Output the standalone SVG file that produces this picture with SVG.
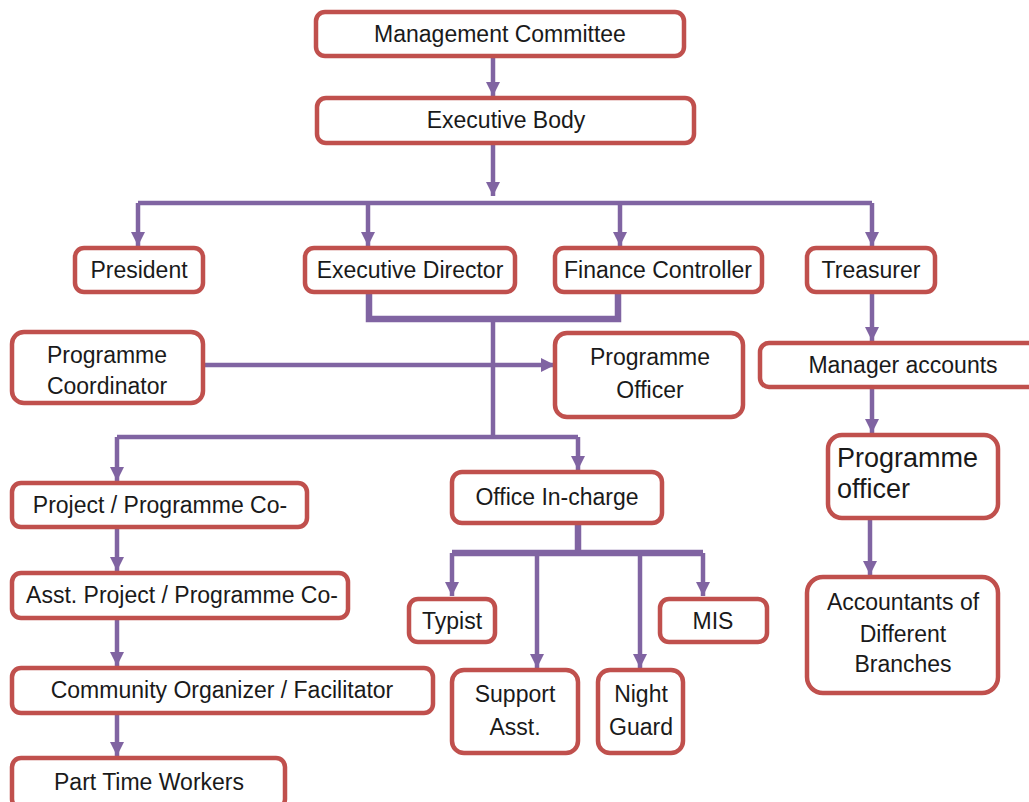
<svg xmlns="http://www.w3.org/2000/svg" width="1029" height="802" viewBox="0 0 1029 802">
<style>
.box{fill:#fff;stroke:#c0504d;stroke-width:4.5}
.t{font-family:"Liberation Sans",Arial,sans-serif;font-size:23px;fill:#1a1a1a;text-anchor:middle}
.big{font-size:27px;text-anchor:start}
.c{fill:none;stroke:#8064a2;stroke-width:4.5}
.thick{stroke-width:6.5}
</style>
<defs>
<marker id="ah" markerUnits="userSpaceOnUse" markerWidth="16" markerHeight="14" refX="14" refY="7" orient="auto">
<path d="M0,0 L14,7 L0,14 Z" fill="#8064a2"/>
</marker>
</defs>
<g id="connectors">
<path class="c" d="M493,56 V96" marker-end="url(#ah)"/>
<path class="c" d="M493,143 V196" marker-end="url(#ah)"/>
<path class="c" d="M138,203 H872"/>
<path class="c" d="M138,203 V246" marker-end="url(#ah)"/>
<path class="c" d="M368,203 V246" marker-end="url(#ah)"/>
<path class="c" d="M620,203 V246" marker-end="url(#ah)"/>
<path class="c" d="M872,203 V246" marker-end="url(#ah)"/>
<path class="c thick" d="M369,292 V319 H618 V292"/>
<path class="c" d="M493,319 V437"/>
<path class="c" d="M203,365 H555" marker-end="url(#ah)"/>
<path class="c" d="M872,292 V341" marker-end="url(#ah)"/>
<path class="c" d="M872,387 V433" marker-end="url(#ah)"/>
<path class="c" d="M870,518 V575" marker-end="url(#ah)"/>
<path class="c" d="M117,437 H578"/>
<path class="c" d="M117,437 V481" marker-end="url(#ah)"/>
<path class="c" d="M578,437 V470" marker-end="url(#ah)"/>
<path class="c" d="M117,527 V571" marker-end="url(#ah)"/>
<path class="c" d="M117,618 V666" marker-end="url(#ah)"/>
<path class="c" d="M117,713 V756" marker-end="url(#ah)"/>
<path class="c thick" d="M578,523 V553"/>
<path class="c thick" d="M452,553 H703"/>
<path class="c" d="M452,553 V596" marker-end="url(#ah)"/>
<path class="c" d="M537,553 V668" marker-end="url(#ah)"/>
<path class="c" d="M640,553 V668" marker-end="url(#ah)"/>
<path class="c" d="M703,553 V596" marker-end="url(#ah)"/>
</g>
<g id="management-committee"><rect class="box" x="316" y="12" width="368" height="44" rx="9"/><text class="t" x="500" y="42">Management Committee</text></g>
<g id="executive-body"><rect class="box" x="317" y="98" width="377" height="45" rx="9"/><text class="t" x="506" y="128">Executive Body</text></g>
<g id="president"><rect class="box" x="75" y="248" width="128" height="44" rx="9"/><text class="t" x="139" y="278">President</text></g>
<g id="executive-director"><rect class="box" x="305" y="248" width="210" height="44" rx="9"/><text class="t" x="410" y="278">Executive Director</text></g>
<g id="finance-controller"><rect class="box" x="555" y="248" width="207" height="44" rx="9"/><text class="t" x="658" y="278">Finance Controller</text></g>
<g id="treasurer"><rect class="box" x="807" y="248" width="128" height="44" rx="9"/><text class="t" x="871" y="278">Treasurer</text></g>
<g id="programme-coordinator"><rect class="box" x="12" y="332" width="191" height="71" rx="12"/><text class="t" x="107" y="363">Programme</text><text class="t" x="107" y="394">Coordinator</text></g>
<g id="programme-officer"><rect class="box" x="555" y="333" width="188" height="84" rx="12"/><text class="t" x="650" y="365">Programme</text><text class="t" x="650" y="398">Officer</text></g>
<g id="manager-accounts"><rect class="box" x="760" y="343" width="290" height="44" rx="9"/><text class="t" x="903" y="373">Manager accounts</text></g>
<g id="programme-officer-2"><rect class="box" x="828" y="435" width="170" height="83" rx="14"/><text class="t big" x="837" y="467">Programme</text><text class="t big" x="837" y="498">officer</text></g>
<g id="accountants"><rect class="box" x="807" y="577" width="191" height="116" rx="16"/><text class="t" x="903" y="610">Accountants of</text><text class="t" x="903" y="642">Different</text><text class="t" x="903" y="672">Branches</text></g>
<g id="project-coordinator"><rect class="box" x="12" y="483" width="295" height="44" rx="9"/><text class="t" x="160" y="513">Project / Programme Co-</text></g>
<g id="asst-project-coordinator"><rect class="box" x="12" y="573" width="336" height="45" rx="9"/><text class="t" x="182" y="603">Asst. Project / Programme Co-</text></g>
<g id="community-organizer"><rect class="box" x="12" y="668" width="421" height="45" rx="9"/><text class="t" x="222" y="698">Community Organizer / Facilitator</text></g>
<g id="part-time-workers"><rect class="box" x="12" y="758" width="273" height="50" rx="9"/><text class="t" x="149" y="790">Part Time Workers</text></g>
<g id="office-in-charge"><rect class="box" x="452" y="472" width="210" height="51" rx="10"/><text class="t" x="557" y="505">Office In-charge</text></g>
<g id="typist"><rect class="box" x="409" y="599" width="86" height="43" rx="9"/><text class="t" x="452" y="629">Typist</text></g>
<g id="mis"><rect class="box" x="660" y="599" width="107" height="43" rx="9"/><text class="t" x="713" y="629">MIS</text></g>
<g id="support-asst"><rect class="box" x="452" y="670" width="126" height="83" rx="12"/><text class="t" x="515" y="702">Support</text><text class="t" x="515" y="735">Asst.</text></g>
<g id="night-guard"><rect class="box" x="598" y="670" width="85" height="83" rx="12"/><text class="t" x="641" y="702">Night</text><text class="t" x="641" y="735">Guard</text></g>
</svg>
